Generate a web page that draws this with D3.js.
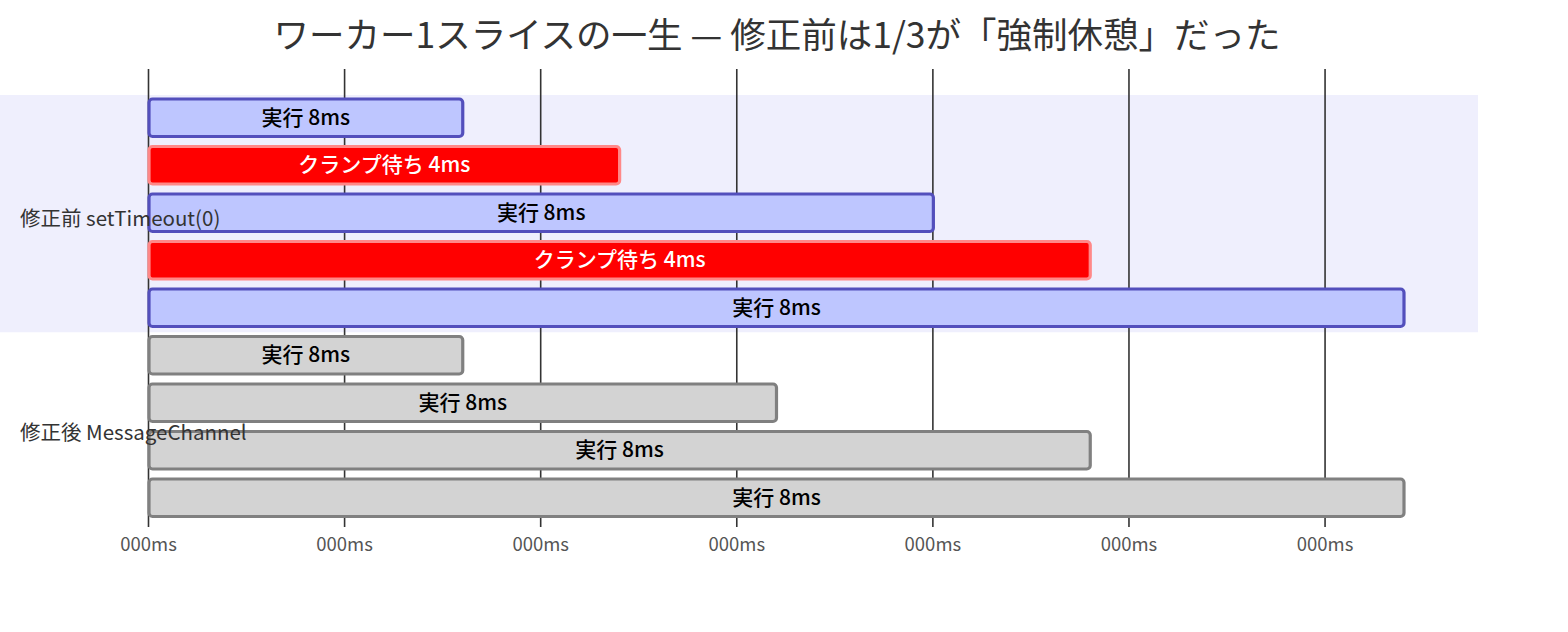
<!DOCTYPE html>
<html>
<head>
<meta charset="utf-8">
<script src="https://cdn.jsdelivr.net/npm/d3@7"></script>
<style>
  body { margin: 0; background: #fff; }
  svg { font-family: "Noto Sans CJK JP", "Open Sans", sans-serif; }
</style>
</head>
<body>
<svg id="chart" width="1568" height="632"></svg>
<script>
// data
const title = "ワーカー1スライスの一生 — 修正前は1/3が「強制休憩」だった";
const sections = ["修正前 setTimeout(0)", "修正後 MessageChannel"];
const taskLabels = ["実行 8ms", "クランプ待ち 4ms", "実行 8ms", "クランプ待ち 4ms", "実行 8ms",
                    "実行 8ms", "実行 8ms", "実行 8ms", "実行 8ms"];
const taskSection = [0, 0, 0, 0, 0, 1, 1, 1, 1];
const taskStart = [0, 0, 0, 0, 0, 0, 0, 0, 0];
const taskEnd = [8, 12, 20, 24, 32, 8, 16, 24, 32];
const taskKind = ["active", "crit", "active", "crit", "active", "done", "done", "done", "done"];
const tickValues = [0, 5, 10, 15, 20, 25, 30];
const tickLabels = ["000ms", "000ms", "000ms", "000ms", "000ms", "000ms", "000ms"];

const styles = {
  active: { fill: "#bec6ff", stroke: "#534fbc", text: "#000" },
  crit: { fill: "#ff0000", stroke: "#ff8888", text: "#fff" },
  done: { fill: "#d3d3d3", stroke: "#808080", text: "#000" }
};
const sectionFill = ["#efeffd", "#ffffff"];

const svg = d3.select("#chart");

const x = d3.scaleLinear().domain([0, 32]).range([148, 1403]);
const rowIdx = taskLabels.map((d, i) => i);
const y = d3.scaleBand().domain(rowIdx).range([95, 95 + 9 * 47.5]);

// section backgrounds
sections.forEach((s, si) => {
  const rows = rowIdx.filter(i => taskSection[i] === si);
  const top = y(rows[0]);
  const bot = y(rows[rows.length - 1]) + y.bandwidth();
  svg.append("rect")
    .attr("x", 0).attr("y", top)
    .attr("width", 1478).attr("height", bot - top)
    .attr("fill", sectionFill[si]);
});

// grid / axis
const axis = d3.axisBottom(x)
  .tickValues(tickValues)
  .tickFormat((d, i) => tickLabels[i])
  .tickSize(-(527 - 69))
  .tickSizeOuter(0);
const gAxis = svg.append("g")
  .attr("transform", "translate(0,527)")
  .call(axis);
gAxis.select(".domain").remove();
gAxis.selectAll(".tick line").attr("stroke", "#333").attr("stroke-width", 1.6);
gAxis.selectAll(".tick text")
  .attr("y", 11)
  .attr("fill", "#555")
  .attr("font-size", 18.5)
  .style("font-family", "'Noto Sans CJK JP', sans-serif");

// bars
const bars = svg.append("g").selectAll("g")
  .data(rowIdx)
  .join("g");
bars.append("rect")
  .attr("x", i => x(taskStart[i]) + 1)
  .attr("y", i => y(i) + 4)
  .attr("width", i => x(taskEnd[i]) - x(taskStart[i]))
  .attr("height", 37.5)
  .attr("rx", 3.5)
  .attr("fill", i => styles[taskKind[i]].fill)
  .attr("stroke", i => styles[taskKind[i]].stroke)
  .attr("stroke-width", 3.2);
bars.append("text")
  .attr("x", i => (x(taskStart[i]) + x(taskEnd[i])) / 2 + 1)
  .attr("y", i => y(i) + 22.5)
  .attr("dy", "0.35em")
  .attr("text-anchor", "middle")
  .attr("font-size", 21)
  .attr("font-weight", 500)
  .attr("fill", i => styles[taskKind[i]].text)
  .text(i => taskLabels[i]);

// section labels
sections.forEach((s, si) => {
  const rows = rowIdx.filter(i => taskSection[i] === si);
  const mid = (y(rows[0]) + y(rows[rows.length - 1]) + y.bandwidth()) / 2;
  svg.append("text")
    .attr("x", 20).attr("y", mid + 5.5)
    .attr("dy", "0.35em")
    .attr("font-size", 20.5)
    .attr("fill", "#333")
    .text(s);
});

// title
svg.append("text")
  .attr("x", 777).attr("y", 36)
  .attr("dy", "0.35em")
  .attr("text-anchor", "middle")
  .attr("font-size", 35.5)
  .attr("fill", "#333")
  .text(title);
</script>
</body>
</html>
